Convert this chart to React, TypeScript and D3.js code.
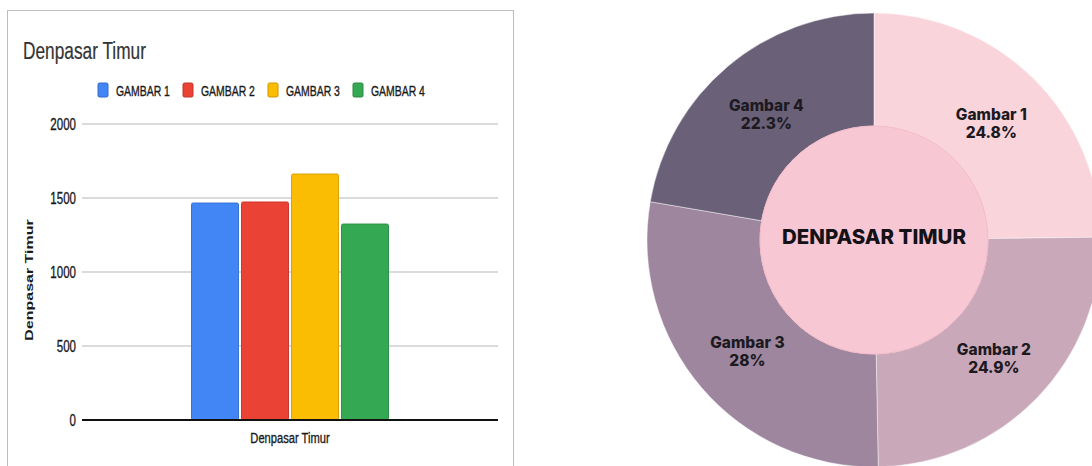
import React from 'react';
import * as d3 from 'd3';

// data
const category = 'Denpasar Timur';
const seriesNames = ['GAMBAR 1', 'GAMBAR 2', 'GAMBAR 3', 'GAMBAR 4'];
const seriesValues = [1466, 1473, 1662, 1324];
const seriesColors = ['#4285f4', '#ea4335', '#fbbc04', '#34a853'];
const yTicks = [0, 500, 1000, 1500, 2000];

const pieLabels = ['Gambar 1', 'Gambar 2', 'Gambar 3', 'Gambar 4'];
const piePercents = [24.8, 24.9, 28, 22.3];
const pieColors = ['#fad4db', '#c9a8b9', '#9d869e', '#6a6078'];
const pieTitle = 'DENPASAR TIMUR';

// the left chart is horizontally squeezed in the picture
const SX = 0.72;

const Squeezed = ({ x, y, anchor = 'start', size, weight = 400, fill = '#1a1a1a', halo = 0.35, rotate = 0, children }: any) => (
  <text
    transform={`translate(${x},${y}) scale(${SX},1) rotate(${rotate})`}
    textAnchor={anchor}
    fontSize={size}
    fontWeight={weight}
    fill={fill}
    stroke={fill}
    strokeWidth={halo}
    fontFamily="'Liberation Sans', Arial, sans-serif"
  >
    {children}
  </text>
);

const BarPanel = () => {
  const plotLeft = 82;
  const plotRight = 498;
  const y = d3.scaleLinear().domain([0, 2000]).range([420, 124]);
  const xCat = d3.scaleBand().domain([category]).range([plotLeft, plotRight]).paddingOuter(0.556);
  const xSeries = d3.scaleBand().domain(seriesNames).range([0, xCat.bandwidth()]).paddingInner(0.06);

  return (
    <g>
      <rect x={7.5} y={10.5} width={506} height={480} fill="#fff" stroke="#bdbdbd" />
      <Squeezed x={23} y={59} size={24} fill="#333" halo={0.2}>{category}</Squeezed>

      {seriesNames.map((s, i) => {
        const lx = 98 + i * 85;
        return (
          <g key={s}>
            <rect x={lx} y={83} width={10} height={14} rx={1.5} fill={seriesColors[i]}
              stroke={d3.color(seriesColors[i])!.darker(0.6).toString()} strokeWidth={1} />
            <Squeezed x={lx + 18} y={95.5} size={14.5}>{s}</Squeezed>
          </g>
        );
      })}

      {yTicks.map(t => (
        <g key={t}>
          {t !== 0 && <line x1={plotLeft} x2={plotRight} y1={y(t)} y2={y(t)} stroke="#cfcfcf" strokeWidth={1.5} />}
          <Squeezed x={76} y={y(t) + 5.5} anchor="end" size={16}>{t}</Squeezed>
        </g>
      ))}

      {seriesNames.map((s, i) => (
        <rect
          key={s}
          x={xCat(category)! + xSeries(s)!}
          y={y(seriesValues[i])}
          width={xSeries.bandwidth()}
          height={y(0) - y(seriesValues[i])}
          rx={1.5}
          fill={seriesColors[i]}
          stroke={d3.color(seriesColors[i])!.darker(0.4).toString()}
          strokeWidth={1}
        />
      ))}

      <line x1={plotLeft} x2={plotRight} y1={y(0)} y2={y(0)} stroke="#111" strokeWidth={1.8} />

      <Squeezed x={xCat(category)! + xCat.bandwidth() / 2} y={443} anchor="middle" size={15.5}>{category}</Squeezed>
      <Squeezed x={33} y={280} anchor="middle" size={16} weight={700} halo={0} rotate={-90}>{category}</Squeezed>
    </g>
  );
};

const DonutPanel = () => {
  const cx = 874;
  const cy = 240;
  const outer = 227;
  const inner = 114;
  const pie = d3.pie<number>().sort(null).value(d => d);
  const arcs = pie(piePercents);
  const arc = d3.arc<d3.PieArcDatum<number>>().innerRadius(inner).outerRadius(outer);
  const labelArc = d3.arc<d3.PieArcDatum<number>>().innerRadius(167).outerRadius(167);
  const font = "Inter, 'Noto Sans', sans-serif";

  return (
    <g transform={`translate(${cx},${cy})`}>
      {arcs.map((a, i) => (
        <path key={i} d={arc(a)!} fill={pieColors[i]} stroke="rgba(255,255,255,0.45)" strokeWidth={1} />
      ))}
      <circle r={inner} fill="#f8c7d4" stroke="#f3b9c8" strokeWidth={1} />
      {arcs.map((a, i) => {
        const [lx, ly] = labelArc.centroid(a);
        return (
          <text key={i} x={lx} y={ly} textAnchor="middle" fontFamily={font} fontWeight={800} fontSize={15.5} fill="#1c1a1f">
            <tspan x={lx} dy={-1}>{pieLabels[i]}</tspan>
            <tspan x={lx} dy={18}>{`${piePercents[i]}%`}</tspan>
          </text>
        );
      })}
      <text x={0} y={4} textAnchor="middle" fontFamily={font} fontWeight={800} fontSize={20.5} fill="#141216"
        textLength={184} lengthAdjust="spacingAndGlyphs">
        {pieTitle}
      </text>
    </g>
  );
};

export default function App() {
  return (
    <svg width={1092} height={466} style={{ position: 'absolute', left: 0, top: 0, background: '#fff' }}>
      <BarPanel />
      <DonutPanel />
    </svg>
  );
}
